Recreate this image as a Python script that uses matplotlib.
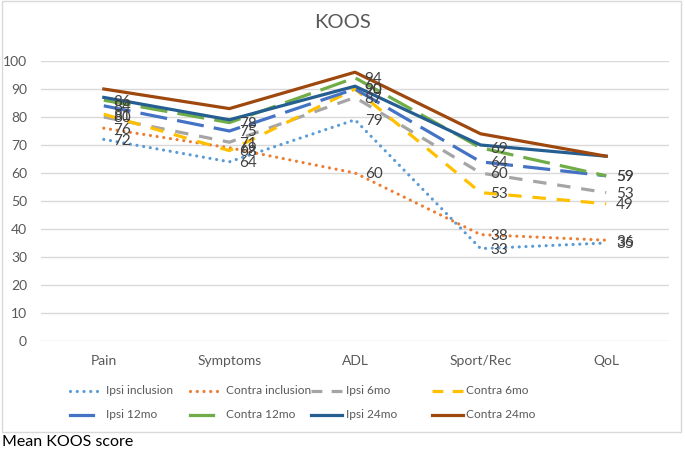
import matplotlib.pyplot as plt
from matplotlib.patches import Rectangle
from matplotlib.lines import Line2D

plt.rcParams['font.family'] = ['Lato', 'DejaVu Sans']

categories = ["Pain", "Symptoms", "ADL", "Sport/Rec", "QoL"]

ipsi_inclusion = [72, 64, 79, 33, 35]
contra_inclusion = [76, 69, 60, 38, 36]
ipsi_6mo = [80, 71, 87, 60, 53]
contra_6mo = [81, 68, 90, 53, 49]
ipsi_12mo = [84, 75, 90, 64, 59]
contra_12mo = [86, 78, 94, 69, 59]
ipsi_24mo = [87, 79, 91, 70, 66]
contra_24mo = [90, 83, 96, 74, 66]

series_names = ["Ipsi inclusion", "Contra inclusion", "Ipsi 6mo", "Contra 6mo",
                "Ipsi 12mo", "Contra 12mo", "Ipsi 24mo", "Contra 24mo"]
series_values = [ipsi_inclusion, contra_inclusion, ipsi_6mo, contra_6mo,
                 ipsi_12mo, contra_12mo, ipsi_24mo, contra_24mo]
colors = ["#5B9BD5", "#ED7D31", "#A5A5A5", "#FFC000",
          "#4472C4", "#70AD47", "#255E91", "#9E480E"]
dot = (0, (0.01, 2.1))
dash = (0, (4.2, 3.4))
longdash = (0, (8.5, 3.2))
styles = [dot, dot, dash, dash, longdash, longdash, "-", "-"]
legend_styles = [dot, dot, (0, (3.4, 2.9)), (0, (3.4, 2.9)), "-", "-", "-", "-"]
labelled = 6  # first six series carry data labels

txt = "#595959"
W, H = 685, 450


def fx(px):
    return px / W


def fy(py):
    return 1 - py / H


fig = plt.figure(figsize=(6.85, 4.5), dpi=100)
ax = fig.add_axes([fx(41), fy(341), 628 / W, 280 / H])

x = range(len(categories))
for i, (name, vals) in enumerate(zip(series_names, series_values)):
    ax.plot(x, vals, color=colors[i], linestyle=styles[i], lw=2.3,
            dash_capstyle="round" if styles[i] is dot else "butt",
            label=name, zorder=3 + i)
    if i < labelled:
        for xi, v in zip(x, vals):
            ax.annotate(str(v), (xi, v), xytext=(7, -1), textcoords="offset points",
                        ha="left", va="center", fontsize=11, color="#404040",
                        zorder=20)

ax.set_xlim(-0.5, len(categories) - 0.5)
ax.set_ylim(0, 100)
ax.set_yticks(range(0, 101, 10))
ax.set_xticks(list(x))
ax.set_xticklabels(categories)
ax.grid(axis="y", color="#D9D9D9", lw=1)
ax.set_axisbelow(True)
for s in ax.spines.values():
    s.set_visible(False)
ax.tick_params(length=0, colors=txt, labelsize=10)
ax.tick_params(axis="x", pad=10)
ax.tick_params(axis="y", pad=10)

fig.text(fx(342), fy(22), "KOOS", ha="center", va="center",
         fontsize=14.5, color=txt)

# legend, laid out the way the spreadsheet draws it: 4 fixed-width columns
col_handle = [70, 190, 311, 432]
col_text = [106, 226, 346, 466]
row_y = [391, 415]
for i, name in enumerate(series_names):
    row, col = divmod(i, 4)
    hlen = 23 if (row == 1 and col < 2) else 31
    y = fy(row_y[row])
    fig.add_artist(Line2D([fx(col_handle[col]), fx(col_handle[col] + hlen)], [y, y],
                          transform=fig.transFigure, color=colors[i], lw=2.3,
                          linestyle=legend_styles[i],
                          dash_capstyle="round" if legend_styles[i] is dot else "butt"))
    fig.text(fx(col_text[col]), y, name, ha="left", va="center",
             fontsize=8.6, color=txt)

fig.patches.append(Rectangle((fx(2), fy(432)), 679 / W, 431 / H,
                             transform=fig.transFigure, fill=False,
                             edgecolor="#D9D9D9", lw=1))
fig.text(fx(2), fy(442), "Mean KOOS score", ha="left", va="center",
         fontsize=11.5, color="black")

fig.savefig("out.png", dpi=100)
